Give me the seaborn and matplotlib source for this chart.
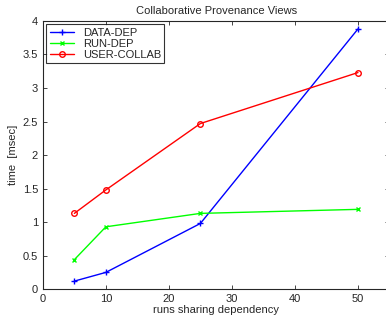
import numpy as np
import pandas as pd
import matplotlib
matplotlib.use("Agg")
import matplotlib.pyplot as plt
import seaborn as sns

runs = [5, 10, 25, 50]
data_dep = [0.12, 0.25, 0.98, 3.88]
run_dep = [0.44, 0.93, 1.13, 1.19]
user_collab = [1.13, 1.48, 2.47, 3.23]

series_names = ["DATA-DEP", "RUN-DEP", "USER-COLLAB"]
df = pd.DataFrame({
    "runs": runs * 3,
    "time": data_dep + run_dep + user_collab,
    "view": [n for n in series_names for _ in runs],
})

sns.set_style("ticks")
plt.rcParams["font.family"] = ["Liberation Sans", "DejaVu Sans"]

fig = plt.figure(figsize=(3.86, 3.22), dpi=100)
ax = fig.add_axes([0.111, 0.102, 0.898, 0.833])

palette = {"DATA-DEP": "#0000ff", "RUN-DEP": "#00ff00", "USER-COLLAB": "#ff0000"}
markers = {"DATA-DEP": "+", "RUN-DEP": "x", "USER-COLLAB": "o"}
sizes = {"DATA-DEP": 4, "RUN-DEP": 3, "USER-COLLAB": 4}
for name in series_names:
    sub = df[df["view"] == name]
    sns.lineplot(data=sub, x="runs", y="time", ax=ax, color=palette[name],
                 marker=markers[name], markersize=sizes[name],
                 markerfacecolor="none" if name == "USER-COLLAB" else palette[name],
                 markeredgecolor=palette[name], markeredgewidth=1.0,
                 linewidth=1.0, label=name)

ax.set_xlim(0, 55)
ax.set_ylim(0, 4)
ax.set_xticks(range(0, 51, 10))
ax.set_yticks(np.arange(0, 4.01, 0.5))
ax.set_yticklabels(["0", "0.5", "1", "1.5", "2", "2.5", "3", "3.5", "4"])
ax.tick_params(direction="in", length=3, labelsize=8, width=0.6)
ax.tick_params(top=True, right=True)
for s in ax.spines.values():
    s.set_linewidth(0.8)
ax.set_xlabel("runs sharing dependency", fontsize=8, labelpad=1)
ax.set_ylabel("time  [msec]", fontsize=8, labelpad=3)
ax.set_title("Collaborative Provenance Views", fontsize=8, pad=5)

leg = ax.legend(loc="upper left", fontsize=8, frameon=True, fancybox=False,
                borderpad=0.3, labelspacing=0.1, handlelength=2.2,
                borderaxespad=0.3)
leg.get_frame().set_edgecolor("black")
leg.get_frame().set_linewidth(0.8)

fig.savefig("out.png", dpi=100)
